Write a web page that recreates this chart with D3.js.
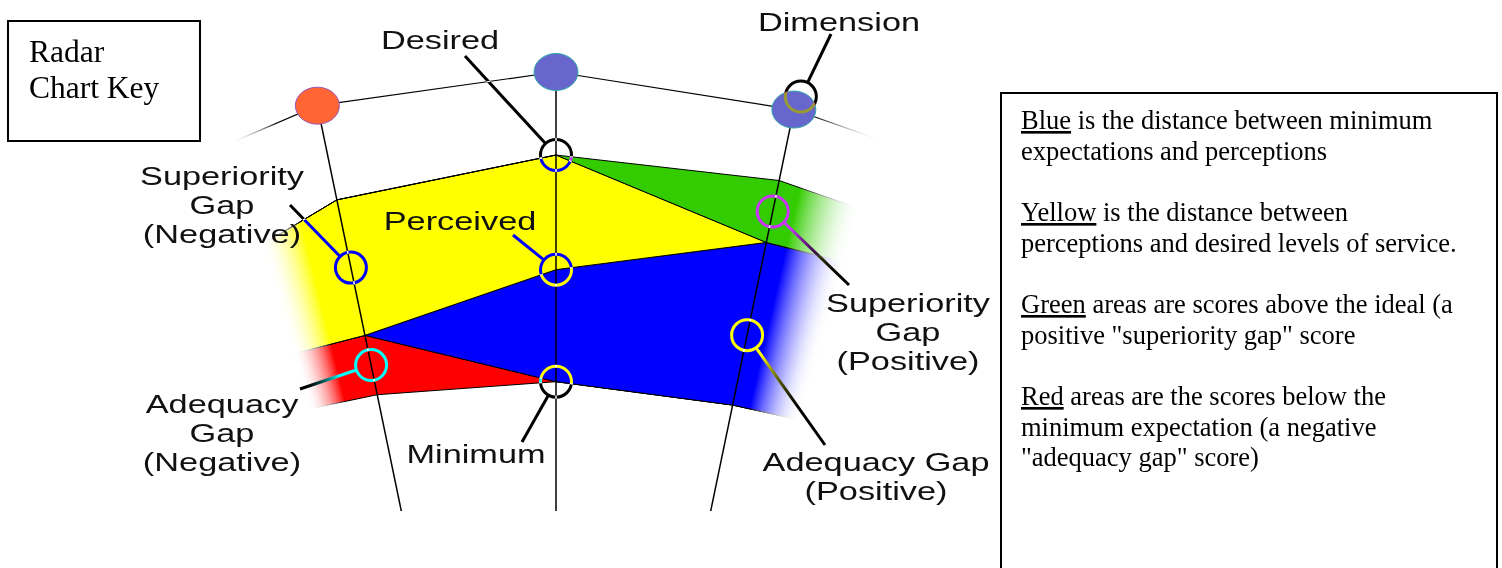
<!DOCTYPE html>
<html>
<head>
<meta charset="utf-8">
<script src="https://cdn.jsdelivr.net/npm/d3@7"></script>
<style>
  body { margin: 0; background: #fff; }
  svg { display: block; }
  .lbl { font-family: "Liberation Sans", Arial, sans-serif; font-size: 26px; fill: #111; }
  .serif { font-family: "Liberation Serif", "Times New Roman", serif; fill: #000; }
</style>
</head>
<body>
<svg id="chart" width="1502" height="568"></svg>
<script>
// radar dimensions (only the middle three are fully shown, the outer two fade out)
const dimensions = ["Dim 1", "Dim 2", "Dim 3", "Dim 4", "Dim 5"];
// scores on a 9 point scale, one per dimension
const minimum   = [7.23, 7.15, 6.65, 6.61, 6.73];
const perceived = [6.83, 6.69, 7.50, 8.35, 8.30];
const desired   = [7.81, 8.20, 8.37, 7.87, 7.97];
const gridLevel = [8.75, 8.93, 9.00, 8.90, 8.84];

const keyText = [
  [["Blue", " is the distance between minimum"], ["", "expectations and perceptions"]],
  [["Yellow", " is the distance between"], ["", "perceptions and desired levels of service."]],
  [["Green", " areas are scores above the ideal (a"], ["", "positive \"superiority gap\" score"]],
  [["Red", " areas are the scores below the"], ["", "minimum expectation (a negative"], ["", "\"adequacy gap\" score)"]]
];

const svg = d3.select("#chart");
const W = 1502, H = 568;
const cx = 556, cy = 1258;
const step = 11.7 * Math.PI / 180;
const deg = Math.PI / 180;

const angle = d3.scalePoint().domain(dimensions).range([-2 * step, 2 * step]);
const r = d3.scaleLinear().domain([0, 9]).range([0, 1186]);

function pt(i, v) {
  const a = angle(dimensions[i]);
  return [cx + r(v) * Math.sin(a), cy - r(v) * Math.cos(a)];
}

svg.append("rect").attr("width", W).attr("height", H).attr("fill", "#fff");

// angular fade at both ends: nested wedges, each one adding a bit of opacity
const defs = svg.append("defs");
const mask = defs.append("mask").attr("id", "fade")
  .attr("maskUnits", "userSpaceOnUse")
  .attr("x", 0).attr("y", 0).attr("width", W).attr("height", H);
const arc = d3.arc().innerRadius(0).outerRadius(1500);
const fullL = 13.8 * deg, endL = 16.3 * deg;
const fullR = 12.8 * deg, endR = 16.3 * deg;
const mg = mask.append("g").attr("transform", `translate(${cx},${cy})`);
const n = 48;
let prev = 0;
for (let j = 0; j < n; j++) {
  const aL = endL - (endL - fullL) * j / n;
  const aR = endR - (endR - fullR) * j / n;
  const t = (j + 1) / n;
  const v = Math.pow(t, 1.7);
  const alpha = j === n - 1 ? 1 : 1 - (1 - v) / (1 - prev);
  prev = v;
  mg.append("path")
    .attr("d", arc({startAngle: -aL, endAngle: aR}))
    .attr("fill", "#fff")
    .attr("fill-opacity", alpha);
}

defs.append("clipPath").attr("id", "axisClip")
  .append("rect").attr("x", 0).attr("y", 0).attr("width", W).attr("height", 511);

// stacked bands
const bands = [
  {color: "#ff0000", inner: i => Math.min(perceived[i], minimum[i]), outer: i => minimum[i]},
  {color: "#0000ff", inner: i => minimum[i], outer: i => Math.max(minimum[i], Math.min(perceived[i], desired[i]))},
  {color: "#ffff00", inner: i => Math.min(Math.max(perceived[i], minimum[i]), desired[i]), outer: i => desired[i]},
  {color: "#33cc00", inner: i => desired[i], outer: i => Math.max(perceived[i], desired[i])}
];

const line = d3.line();
const faded = svg.append("g").attr("mask", "url(#fade)");
const idx = d3.range(dimensions.length);

bands.forEach(b => {
  const pts = idx.map(i => pt(i, b.outer(i))).concat(idx.slice().reverse().map(i => pt(i, b.inner(i))));
  faded.append("path")
    .attr("d", line(pts) + "Z")
    .attr("fill", b.color)
    .attr("stroke", "#000")
    .attr("stroke-width", 1)
    .attr("stroke-linejoin", "round");
});

faded.append("path")
  .attr("d", line(idx.map(i => pt(i, gridLevel[i]))))
  .attr("fill", "none")
  .attr("stroke", "#000")
  .attr("stroke-width", 1.2);

// axes and dimension dots
const shown = [1, 2, 3];
const dotFill = {1: "#ff6633", 2: "#6666cc", 3: "#6666cc"};
const dotStroke = {1: "#9955bb", 2: "#33aaaa", 3: "#33aaaa"};

svg.append("g").attr("clip-path", "url(#axisClip)")
  .selectAll("line").data(shown).join("line")
  .attr("x1", i => pt(i, 0)[0]).attr("y1", i => pt(i, 0)[1])
  .attr("x2", i => pt(i, gridLevel[i])[0]).attr("y2", i => pt(i, gridLevel[i])[1])
  .attr("stroke", "#000").attr("stroke-width", 1.5);

svg.append("g").selectAll("ellipse").data(shown).join("ellipse")
  .attr("cx", i => pt(i, gridLevel[i])[0])
  .attr("cy", i => pt(i, gridLevel[i])[1])
  .attr("rx", 22).attr("ry", 18.5)
  .attr("fill", i => dotFill[i])
  .attr("stroke", i => dotStroke[i])
  .attr("stroke-width", 1);

// annotation rings and leaders, inverted against what is beneath them
function mid(i, lo, hi, t) { return lo[i] + (hi[i] - lo[i]) * t; }
const dimDot = pt(3, gridLevel[3]);
const notes = [
  {c: pt(2, desired[2]), to: [465, 56]},
  {c: [dimDot[0] + 7, dimDot[1] - 13], to: [831, 34]},
  {c: pt(2, perceived[2]), to: [513, 235]},
  {c: pt(2, minimum[2]), to: [522, 442]},
  {c: pt(1, mid(1, minimum, desired, 0.5)), to: [290, 205]},
  {c: pt(1, mid(1, perceived, minimum, 0.5)), to: [300, 389]},
  {c: pt(3, mid(3, desired, perceived, 0.5)), to: [849, 285]},
  {c: pt(3, mid(3, minimum, desired, 0.43)), to: [825, 445]}
];
const rr = 15.5;
const ann = svg.append("g").style("mix-blend-mode", "difference");
notes.forEach(d => {
  const dx = d.to[0] - d.c[0], dy = d.to[1] - d.c[1];
  const len = Math.hypot(dx, dy);
  ann.append("circle")
    .attr("cx", d.c[0]).attr("cy", d.c[1]).attr("r", rr)
    .attr("fill", "none").attr("stroke", "#fff").attr("stroke-width", 3);
  ann.append("line")
    .attr("x1", d.c[0] + dx / len * rr).attr("y1", d.c[1] + dy / len * rr)
    .attr("x2", d.to[0]).attr("y2", d.to[1])
    .attr("stroke", "#fff").attr("stroke-width", 3);
});

// labels
const labels = [
  {x: 440, y: 49, lines: ["Desired"]},
  {x: 839, y: 31, lines: ["Dimension"]},
  {x: 460, y: 230, lines: ["Perceived"]},
  {x: 222, y: 185, lines: ["Superiority", "Gap", "(Negative)"]},
  {x: 908, y: 312, lines: ["Superiority", "Gap", "(Positive)"]},
  {x: 222, y: 413, lines: ["Adequacy", "Gap", "(Negative)"]},
  {x: 876, y: 471, lines: ["Adequacy Gap", "(Positive)"]},
  {x: 476, y: 463, lines: ["Minimum"]}
];
labels.forEach(l => {
  const g = svg.append("g").attr("transform", `translate(${l.x},${l.y}) scale(1.32,1)`);
  l.lines.forEach((s, k) => {
    g.append("text").attr("class", "lbl")
      .attr("x", 0).attr("y", k * 29.2)
      .attr("text-anchor", "middle")
      .text(s);
  });
});

// key title box
svg.append("rect").attr("x", 8).attr("y", 21).attr("width", 192).attr("height", 120)
  .attr("fill", "none").attr("stroke", "#000").attr("stroke-width", 2);
svg.append("text").attr("class", "serif").attr("x", 29).attr("y", 62)
  .style("font-size", "31.5px").text("Radar");
svg.append("text").attr("class", "serif").attr("x", 29).attr("y", 98)
  .style("font-size", "31.5px").text("Chart Key");

// explanation box
svg.append("rect").attr("x", 1001).attr("y", 93).attr("width", 496).attr("height", 520)
  .attr("fill", "none").attr("stroke", "#000").attr("stroke-width", 2);
let y = 129;
keyText.forEach(par => {
  par.forEach(parts => {
    const t = svg.append("text").attr("class", "serif")
      .attr("x", 1021).attr("y", y).style("font-size", "26.5px");
    if (parts[0]) t.append("tspan").style("text-decoration", "underline").text(parts[0]);
    t.append("tspan").text(parts[1]);
    y += 30.5;
  });
  y += 31;
});
</script>
</body>
</html>
